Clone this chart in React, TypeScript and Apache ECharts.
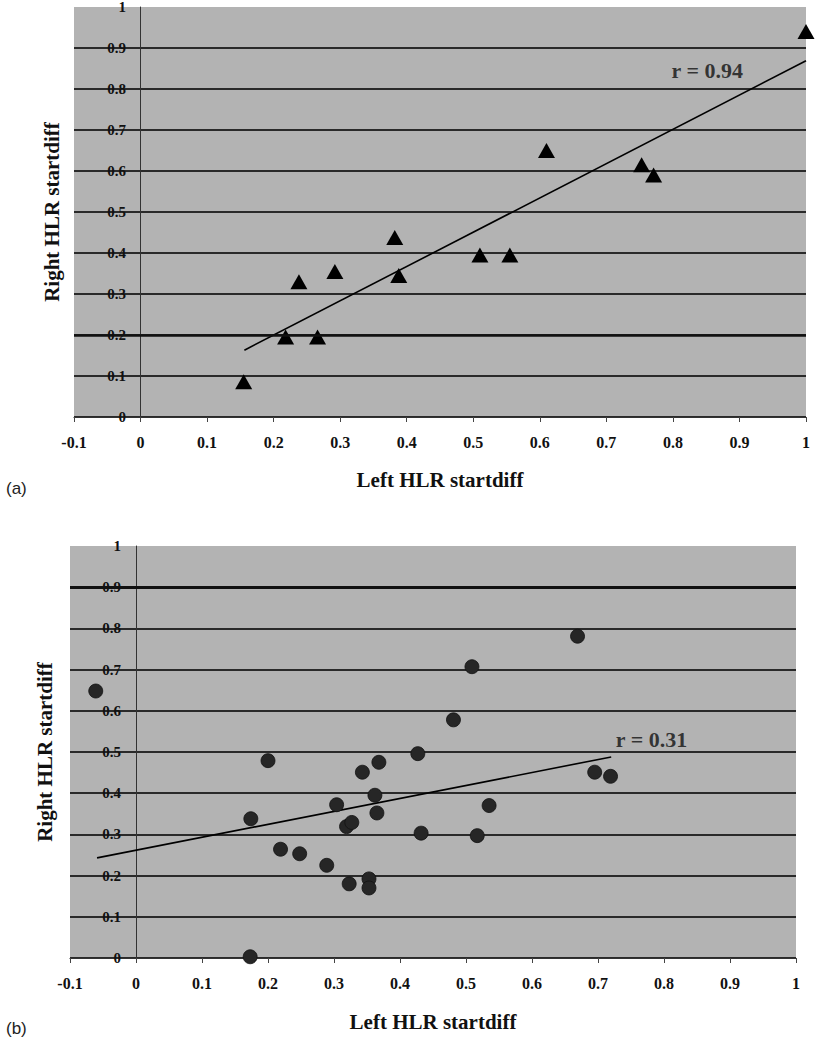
import React, { useEffect, useRef } from "react";
import * as echarts from "echarts";

// Panel (a): triangles
const pointsA: [number, number][] = [
  [0.155, 0.086],
  [0.218, 0.195],
  [0.266, 0.195],
  [0.238, 0.33],
  [0.292, 0.355],
  [0.382, 0.438],
  [0.388, 0.345],
  [0.51, 0.395],
  [0.555, 0.395],
  [0.61, 0.65],
  [0.753, 0.615],
  [0.771, 0.59],
  [1.0, 0.94],
];
const trendA: [number, number][] = [
  [0.156, 0.163],
  [1.0, 0.869],
];
const rLabelA = "r = 0.94";
const rPosA: [number, number] = [0.798, 0.846];
const thickLineA = 0.2;

// Panel (b): circles
const pointsB: [number, number][] = [
  [-0.061, 0.648],
  [0.174, 0.338],
  [0.173, 0.003],
  [0.2, 0.479],
  [0.219, 0.264],
  [0.248, 0.253],
  [0.289, 0.225],
  [0.304, 0.372],
  [0.319, 0.319],
  [0.327, 0.329],
  [0.323, 0.18],
  [0.343, 0.451],
  [0.353, 0.192],
  [0.353, 0.17],
  [0.362, 0.395],
  [0.365, 0.352],
  [0.368, 0.475],
  [0.427, 0.496],
  [0.432, 0.303],
  [0.481, 0.578],
  [0.509, 0.707],
  [0.517, 0.297],
  [0.535, 0.37],
  [0.669, 0.781],
  [0.695, 0.451],
  [0.719, 0.441],
];
const trendB: [number, number][] = [
  [-0.059, 0.243],
  [0.72, 0.488],
];
const rLabelB = "r = 0.31";
const rPosB: [number, number] = [0.727, 0.53];
const thickLineB = 0.9;

const xTitle = "Left HLR startdiff";
const yTitle = "Right HLR startdiff";
const panelLabels = ["(a)", "(b)"];

const SERIF = "'Liberation Serif', 'Times New Roman', serif";

function makeXAxis(gridIndex: number, nameGap: number) {
  return {
    type: "value",
    gridIndex,
    min: -0.1,
    max: 1,
    interval: 0.1,
    name: xTitle,
    nameLocation: "middle",
    nameGap,
    nameMoveOverlap: false,
    nameTextStyle: { fontFamily: SERIF, fontWeight: "bold", fontSize: 21, color: "#111" },
    axisLine: { show: true, lineStyle: { color: "#333", width: 1.2 } },
    axisTick: { show: true, inside: false, length: 5, lineStyle: { color: "#444", width: 1 } },
    axisLabel: {
      margin: 17,
      fontFamily: SERIF,
      fontWeight: "bold",
      fontSize: 16,
      color: "#111",
      formatter: (v: number) => String(Math.round(v * 10) / 10),
    },
    splitLine: { show: false },
  };
}

function makeYAxis(gridIndex: number, nameGap: number, labelMargin: number) {
  return {
    type: "value",
    gridIndex,
    min: 0,
    max: 1,
    interval: 0.1,
    name: yTitle,
    nameLocation: "middle",
    nameGap,
    nameMoveOverlap: false,
    nameTextStyle: { fontFamily: SERIF, fontWeight: "bold", fontSize: 21, color: "#111" },
    axisLine: { show: true, onZero: true, lineStyle: { color: "#333", width: 1 } },
    axisTick: { show: false },
    axisLabel: {
      margin: labelMargin,
      fontFamily: SERIF,
      fontWeight: "bold",
      fontSize: 15,
      color: "#111",
      formatter: (v: number) => String(Math.round(v * 10) / 10),
    },
    splitLine: {
      show: true,
      showMaxLine: false,
      lineStyle: { color: "#2a2a2a", width: 1.8 },
    },
  };
}

function markLineAt(y: number, width: number) {
  return {
    silent: true,
    symbol: "none",
    label: { show: false },
    lineStyle: { color: "#111", width, type: "solid" },
    data: [{ yAxis: y }],
  };
}

export default function App() {
  const ref = useRef<HTMLDivElement>(null);

  useEffect(() => {
    if (!ref.current) return;
    const chart = echarts.init(ref.current, undefined, { renderer: "svg" });
    chart.setOption({
      animation: false,
      backgroundColor: "#ffffff",
      grid: [
        {
          left: 74, top: 7, width: 732, height: 410, show: true,
          backgroundColor: "#b3b3b3", borderWidth: 0, containLabel: false, outerBoundsMode: "none",
        },
        {
          left: 70, top: 546, width: 726, height: 412, show: true,
          backgroundColor: "#b3b3b3", borderWidth: 0, containLabel: false, outerBoundsMode: "none",
        },
      ],
      xAxis: [makeXAxis(0, 52), makeXAxis(1, 53)],
      yAxis: [makeYAxis(0, 12, -52), makeYAxis(1, 15, -51)],
      series: [
        {
          type: "line",
          xAxisIndex: 0,
          yAxisIndex: 0,
          data: trendA,
          symbol: "none",
          lineStyle: { color: "#000", width: 1.6 },
          markLine: markLineAt(thickLineA, 2.6),
          z: 3,
        },
        {
          type: "scatter",
          xAxisIndex: 0,
          yAxisIndex: 0,
          data: pointsA,
          symbol: "triangle",
          symbolSize: [17, 15],
          itemStyle: { color: "#000", opacity: 1 },
          z: 4,
        },
        {
          type: "scatter",
          xAxisIndex: 0,
          yAxisIndex: 0,
          data: [rPosA],
          symbolSize: 0,
          label: {
            show: true,
            position: "right",
            distance: 0,
            formatter: rLabelA,
            fontFamily: SERIF,
            fontWeight: "bold",
            fontSize: 22,
            color: "#111",
          },
          z: 5,
        },
        {
          type: "line",
          xAxisIndex: 1,
          yAxisIndex: 1,
          data: trendB,
          symbol: "none",
          lineStyle: { color: "#000", width: 1.6 },
          markLine: markLineAt(thickLineB, 3),
          z: 3,
        },
        {
          type: "scatter",
          xAxisIndex: 1,
          yAxisIndex: 1,
          data: pointsB,
          symbol: "circle",
          symbolSize: 14,
          itemStyle: { color: "#262626", borderColor: "#111", borderWidth: 0.8, opacity: 1 },
          z: 4,
        },
        {
          type: "scatter",
          xAxisIndex: 1,
          yAxisIndex: 1,
          data: [rPosB],
          symbolSize: 0,
          label: {
            show: true,
            position: "right",
            distance: 0,
            formatter: rLabelB,
            fontFamily: SERIF,
            fontWeight: "bold",
            fontSize: 22,
            color: "#111",
          },
          z: 5,
        },
      ],
      graphic: [
        {
          type: "text",
          left: 6,
          top: 480,
          style: { text: panelLabels[0], fontFamily: "'Liberation Sans', Arial, sans-serif", fontSize: 17, fill: "#222" },
        },
        {
          type: "text",
          left: 6,
          top: 1020,
          style: { text: panelLabels[1], fontFamily: "'Liberation Sans', Arial, sans-serif", fontSize: 17, fill: "#222" },
        },
      ],
    });
    return () => chart.dispose();
  }, []);

  return (
    <div
      ref={ref}
      style={{ position: "absolute", left: 0, top: 0, width: 820, height: 1050, background: "#fff" }}
    />
  );
}
